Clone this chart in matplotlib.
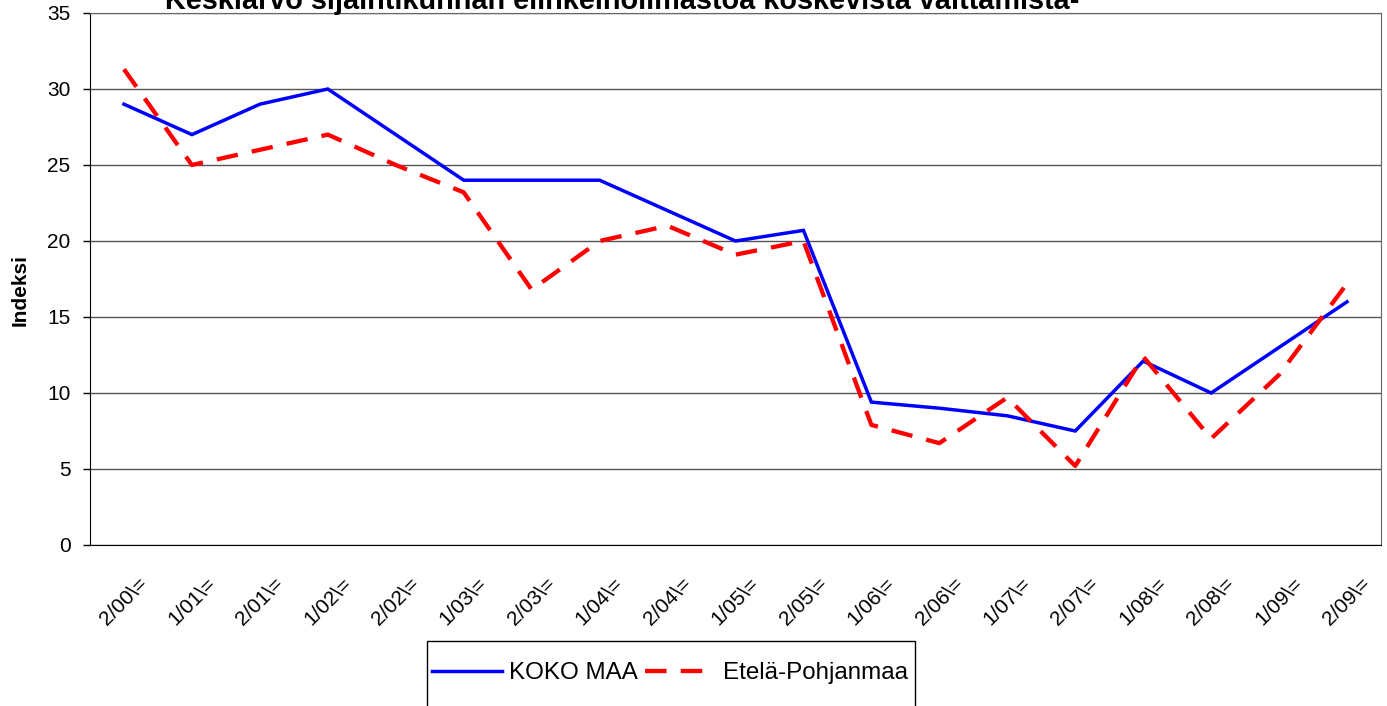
import matplotlib
matplotlib.use("Agg")
import matplotlib.pyplot as plt
from matplotlib.patches import Rectangle

plt.rcParams['font.family'] = ['Liberation Sans', 'DejaVu Sans']

# data
periods = ["2/00", "1/01", "2/01", "1/02", "2/02", "1/03", "2/03", "1/04", "2/04", "1/05",
           "2/05", "1/06", "2/06", "1/07", "2/07", "1/08", "2/08", "1/09", "2/09"]
koko_maa = [29, 27, 29, 30, 27, 24, 24, 24, 22, 20,
            20.7, 9.4, 9.0, 8.5, 7.5, 12.1, 10.0, 13.0, 16.0]
etela_pohjanmaa = [31.3, 25, 26, 27, 25, 23.2, 16.8, 20.0, 21.0, 19.1,
                   20.0, 7.9, 6.7, 9.7, 5.2, 12.4, 7.0, 11.2, 17.2]
yticks = [0, 5, 10, 15, 20, 25, 30, 35]
title = "Keskiarvo sijaintikunnan elinkeinoilmastoa koskevista väittämistä-"

W, H = 1387, 706
fig = plt.figure(figsize=(W / 100, H / 100), dpi=100)
ax = fig.add_axes([90 / W, 1 - 545 / H, (1381 - 90) / W, (545 - 13) / H])

x = list(range(len(periods)))
ax.plot(x, koko_maa, color='#0000ff', lw=2.5, label='KOKO MAA', solid_joinstyle='miter')
ax.plot(x, etela_pohjanmaa, color='#ff0000', lw=3.1, dashes=(5.0, 3.3),
        label='Etelä-Pohjanmaa')

ax.set_xlim(-0.5, len(periods) - 0.5)
ax.set_ylim(0, 35)
ax.set_yticks(yticks)
ax.tick_params(axis='y', labelsize=15, length=5, width=1, pad=9)
ax.set_xticks(x)
ax.set_xticklabels([p + "\\=" for p in periods], rotation=45, ha='center', va='top')
ax.tick_params(axis='x', labelsize=15, length=0, pad=21)
ax.yaxis.grid(True, color='#555555', lw=1)
ax.set_axisbelow(True)
for s in ['top', 'right']:
    ax.spines[s].set_color('#666666')
for s in ['left', 'bottom']:
    ax.spines[s].set_color('black')
ax.set_ylabel("Indeksi", fontsize=15, fontweight='bold')
ax.yaxis.set_label_coords(-60 / (1381 - 90), 0.48)

fig.text(622 / W, 1 - 9 / H, title, ha='center', va='baseline',
         fontsize=20.8, fontweight='bold')

# legend box, cut by the figure edge
fig.patches.append(Rectangle((427 / W, -0.05), (915 - 427) / W, (1 - 641 / H) + 0.05,
                             transform=fig.transFigure, fill=False, ec='black', lw=1))
fig.legend(loc='center left', bbox_to_anchor=(432 / W, 1 - 673 / H), ncol=2,
           frameon=False, fontsize=17.4, handlelength=2.9, handletextpad=0.3,
           columnspacing=0.3, borderaxespad=0, borderpad=0)

fig.savefig("out.png", dpi=100)
